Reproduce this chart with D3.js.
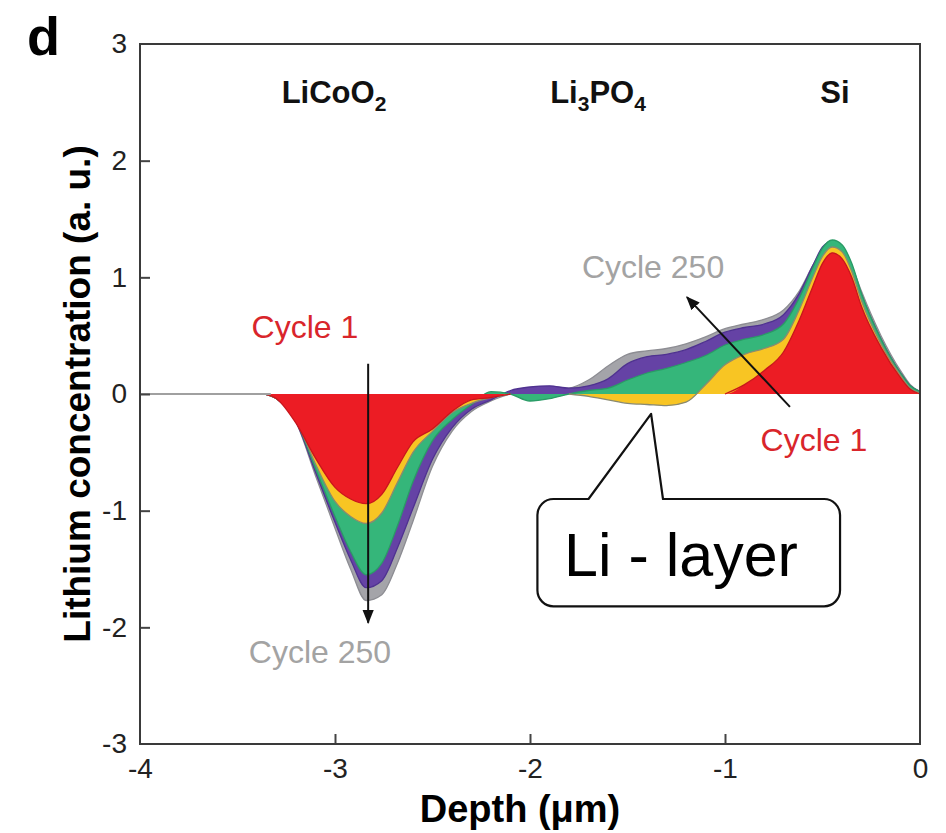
<!DOCTYPE html>
<html>
<head>
<meta charset="utf-8">
<script src="https://cdn.jsdelivr.net/npm/d3@7"></script>
<style>
  body { margin: 0; background: #fff; }
  svg { display: block; font-family: "Liberation Sans", Arial, sans-serif; }
</style>
</head>
<body>
<svg id="chart" width="946" height="833"></svg>
<script>
// depth (um) sample points, shared by every cycle
const depth = [-4, -3.36, -3.3, -3.2, -3.1, -3.0, -2.92, -2.84, -2.76, -2.68, -2.6, -2.5, -2.4, -2.3, -2.2, -2.1, -2.0, -1.9, -1.8, -1.7,
  -1.6, -1.5, -1.4, -1.3, -1.2, -1.1, -1.0, -0.9, -0.8, -0.7, -0.62, -0.55, -0.5, -0.45, -0.4, -0.35, -0.3, -0.2, -0.1, -0.05, 0];

// lithium concentration (a.u.), from cycle 250 (back) to cycle 1 (front)
const cycle250 = [0, 0, -0.03, -0.24, -0.7, -1.15, -1.5, -1.77, -1.72, -1.45, -1.09, -0.62, -0.32, -0.15, -0.06, 0, 0.02, 0.04, 0.05, 0.12,
  0.24, 0.34, 0.37, 0.39, 0.43, 0.49, 0.56, 0.6, 0.64, 0.72, 0.88, 1.1, 1.24, 1.28, 1.25, 1.1, 0.88, 0.5, 0.2, 0.08, 0.02];
const cycleB = [0, 0, -0.04, -0.24, -0.67, -1.1, -1.42, -1.66, -1.6, -1.32, -0.98, -0.56, -0.29, -0.13, -0.05, 0.03, 0.06, 0.07, 0.05, 0.07,
  0.13, 0.26, 0.32, 0.34, 0.38, 0.45, 0.53, 0.57, 0.6, 0.68, 0.86, 1.1, 1.26, 1.31, 1.27, 1.1, 0.85, 0.47, 0.18, 0.07, 0.02];
const cycleC = [0, 0, -0.04, -0.23, -0.64, -1.05, -1.35, -1.55, -1.45, -1.13, -0.75, -0.4, -0.22, -0.09, 0.02, 0.0, -0.06, -0.04, 0.0, 0.03,
  0.05, 0.12, 0.18, 0.22, 0.27, 0.33, 0.42, 0.47, 0.51, 0.6, 0.82, 1.08, 1.25, 1.32, 1.28, 1.12, 0.86, 0.47, 0.18, 0.07, 0.02];
const cycleD = [0, 0, -0.04, -0.23, -0.6, -0.92, -1.05, -1.11, -1.02, -0.76, -0.5, -0.32, -0.16, -0.08, -0.03, 0, 0, 0, 0, -0.02,
  -0.05, -0.08, -0.09, -0.1, -0.07, 0.08, 0.25, 0.34, 0.39, 0.47, 0.72, 1.0, 1.18, 1.26, 1.22, 1.05, 0.8, 0.43, 0.16, 0.05, 0.01];
const cycle1 = [0, 0, -0.04, -0.25, -0.55, -0.8, -0.9, -0.94, -0.86, -0.63, -0.41, -0.3, -0.15, -0.05, -0.03, 0, 0, 0, 0, 0,
  0, 0, 0, 0, 0, 0, 0, 0.08, 0.2, 0.36, 0.63, 0.92, 1.12, 1.21, 1.16, 1.0, 0.75, 0.4, 0.14, 0.04, 0];

const seriesValues = [cycle250, cycleB, cycleC, cycleD, cycle1];
const seriesFill = ["#a4a4a9", "#6542a5", "#35b67a", "#f8c523", "#ec1c24"];
const seriesLine = ["#8d8d93", "#4f3290", "#2a9b66", "#8a8a70", "#c8161c"];

const xTicks = [-4, -3, -2, -1, 0];
const yTicks = [-3, -2, -1, 0, 1, 2, 3];

// layer names on top (main text, subscript)
const layers = [
  {x: -3.005, parts: [["LiCoO", false], ["2", true]]},
  {x: -1.651, parts: [["Li", false], ["3", true], ["PO", false], ["4", true]]},
  {x: -0.436, parts: [["Si", false]]}
];
const cycleLabels = [
  {text: "Cycle 1", x: -3.154, y: 0.48, color: "#d9252b"},
  {text: "Cycle 250", x: -3.077, y: -2.306, color: "#a3a3a3"},
  {text: "Cycle 250", x: -1.369, y: 0.994, color: "#a3a3a3"},
  {text: "Cycle 1", x: -0.544, y: -0.489, color: "#d9252b"}
];
const arrows = [
  {x1: -2.83, y1: 0.26, x2: -2.83, y2: -1.96},
  {x1: -0.667, y1: -0.11, x2: -1.195, y2: 0.83}
];

const svg = d3.select("#chart");
const margin = {left: 140, top: 44, right: 26, bottom: 89};
const width = 946 - margin.left - margin.right;
const height = 833 - margin.top - margin.bottom;

const x = d3.scaleLinear().domain([-4, 0]).range([0, width]);
const y = d3.scaleLinear().domain([-3, 3]).range([height, 0]);

const g = svg.append("g").attr("transform", `translate(${margin.left},${margin.top})`);

const area = d3.area()
  .x((d, i) => x(depth[i]))
  .y0(y(0))
  .y1(d => y(d))
  .curve(d3.curveMonotoneX);

// outline only where the curve leaves the baseline
const isOff = (vals, i) => vals[i] !== 0 || (i > 0 && vals[i - 1] !== 0) || (i < vals.length - 1 && vals[i + 1] !== 0);

seriesValues.forEach((vals, k) => {
  g.append("path")
    .attr("d", area(vals))
    .attr("fill", seriesFill[k]);
  const line = d3.line()
    .defined((d, i) => isOff(vals, i))
    .x((d, i) => x(depth[i]))
    .y(d => y(d))
    .curve(d3.curveMonotoneX);
  g.append("path")
    .attr("d", line(vals))
    .attr("fill", "none")
    .attr("stroke", seriesLine[k])
    .attr("stroke-width", 1.3);
});

// bare baseline where every cycle is still zero
let firstOff = depth.findIndex((d, i) => seriesValues.some(v => v[i] !== 0));
g.append("line")
  .attr("x1", x(depth[0])).attr("x2", x(depth[firstOff - 1]) + 6)
  .attr("y1", y(0)).attr("y2", y(0))
  .attr("stroke", "#a0a0a0").attr("stroke-width", 2);

// axes, ticks inside
const fmt = d => String(d);
const xAxis = g.append("g")
  .attr("transform", `translate(0,${height})`)
  .call(d3.axisBottom(x).tickValues(xTicks).tickFormat(fmt).tickSizeInner(-10).tickSizeOuter(0).tickPadding(14));
const yAxis = g.append("g")
  .call(d3.axisLeft(y).tickValues(yTicks).tickFormat(fmt).tickSizeInner(-10).tickSizeOuter(0).tickPadding(13));
[xAxis, yAxis].forEach(a => {
  a.select(".domain").remove();
  a.selectAll("line").attr("stroke", "#444").attr("stroke-width", 2);
  a.selectAll("text")
    .attr("fill", "#222")
    .style("font-size", "28px")
    .style("font-family", "'Liberation Sans', Arial, sans-serif");
});
xAxis.selectAll(".tick").filter(d => d === -4 || d === 0).select("line").remove();
yAxis.selectAll(".tick").filter(d => d === -3 || d === 3).select("line").remove();

g.append("rect")
  .attr("width", width).attr("height", height)
  .attr("fill", "none").attr("stroke", "#3a3a3a").attr("stroke-width", 2);

// axis titles
svg.append("text")
  .attr("x", margin.left + width / 2 - 10).attr("y", 822)
  .attr("text-anchor", "middle")
  .style("font-size", "38px").style("font-weight", "bold")
  .text("Depth (\u03bcm)");
svg.append("text")
  .attr("transform", `translate(90,${margin.top + y(0)}) rotate(-90)`)
  .attr("text-anchor", "middle")
  .style("font-size", "37px").style("font-weight", "bold")
  .text("Lithium concentration (a. u.)");

svg.append("text")
  .attr("x", 27).attr("y", 55)
  .style("font-size", "54px").style("font-weight", "bold")
  .text("d");

// layer names
layers.forEach(l => {
  const t = g.append("text")
    .attr("x", x(l.x)).attr("y", y(2.494))
    .attr("text-anchor", "middle")
    .style("font-size", "31px").style("font-weight", "bold")
    .attr("fill", "#111");
  l.parts.forEach(([s, sub], j) => {
    t.append("tspan")
      .attr("dy", sub ? 8 : (j ? -8 : 0))
      .style("font-size", sub ? "21px" : "31px")
      .text(s);
  });
});

// arrows
svg.append("defs").append("marker")
  .attr("id", "head").attr("viewBox", "0 0 10 10")
  .attr("refX", 9).attr("refY", 5)
  .attr("markerWidth", 7).attr("markerHeight", 7)
  .attr("markerUnits", "strokeWidth")
  .attr("orient", "auto")
  .append("path").attr("d", "M0,1 L10,5 L0,9 Z").attr("fill", "#111");
arrows.forEach(a => {
  g.append("line")
    .attr("x1", x(a.x1)).attr("y1", y(a.y1))
    .attr("x2", x(a.x2)).attr("y2", y(a.y2))
    .attr("stroke", "#111").attr("stroke-width", 2)
    .attr("marker-end", "url(#head)");
});

cycleLabels.forEach(c => {
  g.append("text")
    .attr("x", x(c.x)).attr("y", y(c.y))
    .attr("text-anchor", "middle")
    .attr("fill", c.color)
    .style("font-size", "32px")
    .text(c.text);
});

// "Li - layer" callout
const box = {x0: -1.962, x1: -0.41, y0: -0.9, y1: -1.82, r: 16, tipX: -1.379, tipY: -0.17, baseL: -1.70, baseR: -1.318};
const bx0 = x(box.x0), bx1 = x(box.x1), by0 = y(box.y0), by1 = y(box.y1), r = box.r;
const callout = d3.path();
callout.moveTo(bx0 + r, by0);
callout.lineTo(x(box.baseL), by0);
callout.lineTo(x(box.tipX), y(box.tipY));
callout.lineTo(x(box.baseR), by0);
callout.lineTo(bx1 - r, by0);
callout.arcTo(bx1, by0, bx1, by0 + r, r);
callout.lineTo(bx1, by1 - r);
callout.arcTo(bx1, by1, bx1 - r, by1, r);
callout.lineTo(bx0 + r, by1);
callout.arcTo(bx0, by1, bx0, by1 - r, r);
callout.lineTo(bx0, by0 + r);
callout.arcTo(bx0, by0, bx0 + r, by0, r);
callout.closePath();
g.append("path")
  .attr("d", callout.toString())
  .attr("fill", "#fff").attr("stroke", "#111").attr("stroke-width", 2.2)
  .attr("stroke-linejoin", "round");
g.append("text")
  .attr("x", x(-1.226)).attr("y", y(-1.56))
  .attr("text-anchor", "middle")
  .style("font-size", "61px")
  .text("Li - layer");
</script>
</body>
</html>
